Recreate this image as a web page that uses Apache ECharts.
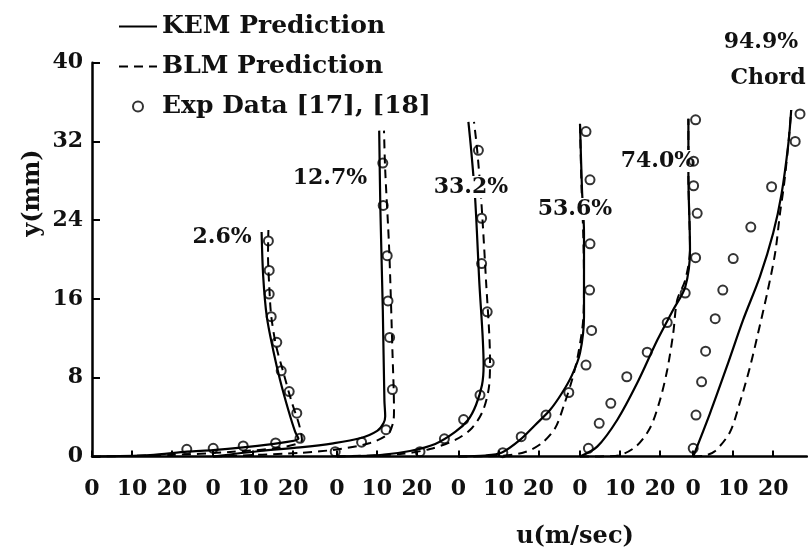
<!DOCTYPE html>
<html><head><meta charset="utf-8">
<script src="https://cdn.jsdelivr.net/npm/echarts@6/dist/echarts.min.js"></script>
<style>html,body{margin:0;padding:0;background:#fff}#c{width:808px;height:558px}</style>
</head><body><div id="c"></div>
<script>
// chord stations and the horizontal shift (m/s) of each profile's origin
const profileNames = ['2.6%', '12.7%', '33.2%', '53.6%', '74.0%', '94.9%'];
const uShift = [0, 30.3, 61.2, 91.6, 122, 150.3];
const xLocalTicks = [0, 10, 20];
const yTickInterval = 8;

// [u (m/s), y (mm)] pairs
const kem026 = [[0,0],[14.5,0.15],[23.8,0.5],[30.3,0.65],[37.8,0.93],[46.3,1.34],[51.6,1.83],[50.8,2.5],[49.1,4.7],[47,7.8],[45.3,10.8],[43.7,14.2],[42.8,18.3],[42.4,22.8]];
const blm026 = [[0,0],[19.5,0.15],[34.5,0.46],[47,0.91],[52.5,1.68],[51.8,3.2],[49.8,5.7],[47.8,8.6],[46,11.3],[44.8,14.3],[44.3,17.4],[44,20.5],[44.1,23]];
const exp026 = [[23.7,0.73],[30.3,0.83],[37.8,1.07],[45.9,1.37],[52,1.85],[51.2,4.4],[49.3,6.6],[47.3,8.7],[46.2,11.6],[44.8,14.2],[44.3,16.5],[44.3,18.9],[44.1,21.9]];

const kem127 = [[0,0],[11.7,0.56],[21.7,0.93],[30,1.34],[36.7,1.85],[41,2.6],[42.6,3.4],[43,4.1],[42.8,5.7],[42.4,14.9],[41.8,25],[41.5,33.1]];
const blm127 = [[0,0],[21.7,0.36],[31.7,0.76],[39.2,1.37],[43.7,2.28],[45,3.5],[45.2,4.7],[44.8,10.8],[44,21],[43,29.1],[42.7,33.1]];
const exp127 = [[30.5,0.49],[37.1,1.45],[43.2,2.72],[44.8,6.8],[44.1,12.1],[43.7,15.8],[43.5,20.4],[42.5,25.5],[42.4,29.8]];

const kem332 = [[0,0],[10.8,0.15],[18.3,0.56],[24.6,1.27],[29.6,2.49],[32.8,3.71],[34.8,5.23],[36.3,7.26],[36.7,9.3],[35.6,17.9],[34.6,26.1],[33.6,31.1],[32.9,34]];
const blm332 = [[0,0],[15.8,0.25],[23.3,0.76],[29.6,1.68],[33.8,2.89],[36.6,4.72],[38.1,7.26],[38.3,9.8],[37.3,17.9],[36.1,26.1],[35.1,31.1],[34.3,34]];
const exp332 = [[20.8,0.49],[26.9,1.8],[31.7,3.75],[35.8,6.24],[38.1,9.54],[37.6,14.7],[36.2,19.6],[36.2,24.2],[35.4,31.1]];

const kem536 = [[0,0],[6.7,0.1],[10.9,0.41],[15.4,1.68],[19.2,3.2],[22.9,4.72],[25.9,6.45],[28.4,8.27],[30.4,10.5],[31.4,14.2],[31.4,22.7],[30.9,27.1],[30.4,33.8]];
const blm536 = [[0,0],[10.4,0.05],[16.7,0.46],[20.9,1.37],[24.2,2.89],[26.4,5.23],[28.4,7.77],[29.9,10.3],[31.2,13.9],[31.4,17.9],[31.2,22.7],[30.8,27.1],[30.4,33.8]];
const exp536 = [[11.1,0.39],[15.7,2.01],[21.9,4.21],[27.6,6.5],[31.9,9.29],[33.3,12.8],[32.8,16.9],[32.9,21.6],[32.9,28.1],[31.9,33]];

const kem740 = [[0,0],[4.3,1.0],[9.3,3.71],[14.3,7.46],[19.3,11.8],[23.3,14.9],[26.3,17.2],[27.5,21],[27.1,28.6],[27.1,34.3]];
const blm740 = [[0,0],[8.8,0.05],[13.8,0.96],[17.5,2.89],[20,5.74],[21.8,8.78],[23.3,12.5],[24.3,15.9],[26.3,17.9],[27.5,21],[27.1,28.6],[27.1,34.3]];
const exp740 = [[2.1,0.83],[4.8,3.37],[7.7,5.4],[11.7,8.1],[16.8,10.6],[21.8,13.6],[26.3,16.6],[28.9,20.2],[29.3,24.7],[28.4,27.5],[28.4,30],[28.9,34.2]];

const kem949 = [[0,0],[4.2,4.39],[8.4,9.12],[12.5,13.9],[16.7,18.3],[20,22.7],[22.1,26.7],[23.8,31.8],[24.5,35.2]];
const blm949 = [[0,0],[3,0.1],[5.5,0.56],[9.2,2.49],[11.7,5.53],[14.2,9.09],[16.2,12.5],[18.5,16.6],[20.5,20.7],[21.7,24.7],[22.7,27.6],[23.8,31.8],[24.5,35.2]];
const exp949 = [[0,0.83],[0.7,4.21],[2.1,7.59],[3.1,10.7],[5.5,14],[7.4,16.9],[10,20.1],[14.4,23.3],[19.6,27.4],[25.5,32],[26.7,34.8]];

const kemSets = [kem026, kem127, kem332, kem536, kem740, kem949];
const blmSets = [blm026, blm127, blm332, blm536, blm740, blm949];
const expSets = [exp026, exp127, exp332, exp536, exp740, exp949];

const FONT = '"DejaVu Serif", "Liberation Serif", serif';
const shiftData = (arr, s) => arr.map(p => [p[0] + s, p[1]]);

const series = [];
for (let i = 0; i < profileNames.length; i++) {
  series.push({
    name: 'KEM Prediction', type: 'line', smooth: 0.3, symbol: 'none', showSymbol: false, clip: false,
    lineStyle: { color: '#000', width: 2.2, type: 'solid' }, itemStyle: { color: '#000' },
    data: shiftData(kemSets[i], uShift[i]), z: 2
  });
  series.push({
    name: 'BLM Prediction', type: 'line', smooth: 0.3, symbol: 'none', showSymbol: false, clip: false,
    lineStyle: { color: '#000', width: 2, type: [9, 6] }, itemStyle: { color: '#000' },
    data: shiftData(blmSets[i], uShift[i]), z: 2
  });
  series.push({
    name: 'Exp Data [17], [18]', type: 'scatter', symbol: 'circle', symbolSize: 9, clip: false,
    itemStyle: { color: 'rgba(255,255,255,0)', borderColor: '#000', borderWidth: 2 },
    data: shiftData(expSets[i], uShift[i]), z: 4
  });
}

const xTickValues = [];
uShift.forEach(s => xLocalTicks.forEach(t => xTickValues.push(s + t)));
function xLabel(v) {
  for (let i = uShift.length - 1; i >= 0; i--) {
    const d = v - uShift[i];
    if (d > -0.01) return String(Math.round(d));
  }
  return '';
}

// label anchor positions (pixels) for the station annotations
const stationLabelPos = [[222, 237], [330, 178], [471, 187], [575, 209], [658, 161], [761, 42]];

const graphic = profileNames.map((n, i) => ({
  type: 'text', x: stationLabelPos[i][0], y: stationLabelPos[i][1], z: 3,
  style: { text: n, font: 'bold 22px ' + FONT, fill: '#111', align: 'center', verticalAlign: 'middle',
           backgroundColor: '#fff', padding: [0, 0] }
}));
graphic.push({ type: 'text', x: 768, y: 78, z: 3,
  style: { text: 'Chord', font: 'bold 22px ' + FONT, fill: '#111', align: 'center', verticalAlign: 'middle' } });
graphic.push({ type: 'text', x: 33, y: 193, rotation: Math.PI / 2, z: 3,
  style: { text: 'y(mm)', font: 'bold 24px ' + FONT, fill: '#111', align: 'center', verticalAlign: 'middle' } });
graphic.push({ type: 'text', x: 575, y: 537, z: 3,
  style: { text: 'u(m/sec)', font: 'bold 24px ' + FONT, fill: '#111', align: 'center', verticalAlign: 'middle' } });

const lineLegendItem = name => ({ name: name, itemStyle: { opacity: 0 } });

const chart = echarts.init(document.getElementById('c'), null, { renderer: 'canvas' });
chart.setOption({
  backgroundColor: '#fff',
  animation: false,
  grid: { left: 92, right: 1, top: 62.7, bottom: 101.5, containLabel: false },
  legend: {
    orient: 'vertical', left: 118, top: 13, padding: 0,
    itemWidth: 38, itemHeight: 10, itemGap: 13, selectedMode: false,
    data: [lineLegendItem('KEM Prediction'), lineLegendItem('BLM Prediction'), 'Exp Data [17], [18]'],
    textStyle: { fontFamily: FONT, fontWeight: 'bold', fontSize: 25, color: '#111', lineHeight: 27 }
  },
  xAxis: {
    type: 'value', min: 0, max: 178.75,
    axisLine: { show: true, lineStyle: { color: '#000', width: 2.5 } },
    axisTick: { show: true, inside: true, length: 6, customValues: xTickValues, lineStyle: { color: '#000', width: 2 } },
    axisLabel: { customValues: xTickValues, formatter: xLabel, margin: 22,
      fontFamily: FONT, fontWeight: 'bold', fontSize: 22, color: '#111' },
    splitLine: { show: false }
  },
  yAxis: {
    type: 'value', min: 0, max: 40, interval: yTickInterval,
    axisLine: { show: true, lineStyle: { color: '#000', width: 2.5 } },
    axisTick: { show: true, inside: true, length: 8, lineStyle: { color: '#000', width: 2 } },
    axisLabel: { margin: 9, fontFamily: FONT, fontWeight: 'bold', fontSize: 22, color: '#111' },
    splitLine: { show: false }
  },
  graphic: graphic,
  series: series
});
</script></body></html>
